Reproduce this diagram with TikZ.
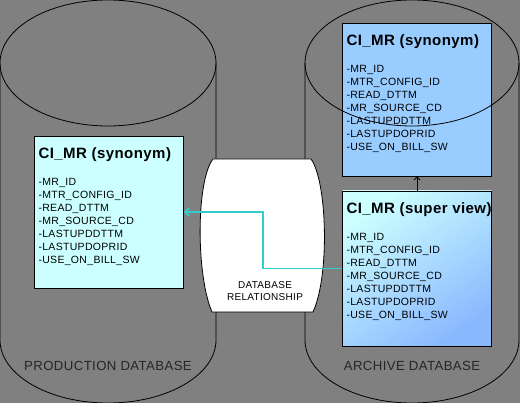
\documentclass[tikz,border=0pt]{standalone}
\usepackage{fontspec}
\setmainfont{Liberation Sans}[LetterSpace=3]
\usetikzlibrary{arrows.meta,calc}

\definecolor{bggray}{HTML}{808080}
\definecolor{paleaqua}{HTML}{CCFFFF}
\definecolor{skyblue}{HTML}{99CCFF}
\definecolor{relcyan}{HTML}{33CCCC}

\newcommand{\mrfields}{-MR\_ID\\-MTR\_CONFIG\_ID\\-READ\_DTTM\\-MR\_SOURCE\_CD\\-LASTUPDDTTM\\-LASTUPDOPRID\\-USE\_ON\_BILL\_SW}
\newcommand{\mrtable}[2]{\parbox[t][#2][t]{141pt}{\raggedright
  \makebox[0pt][l]{\fontsize{15}{15}\selectfont\bfseries #1}\\[14pt]
  \fontsize{10.5}{13}\selectfont\mrfields}}

\begin{document}
\begin{tikzpicture}[x=1pt, y=1pt]
  \tikzstyle{cyl} = [draw, line width=0.8pt]
  \tikzstyle{table} = [draw, line width=0.8pt, inner xsep=4pt, inner ysep=12pt]
  \tikzstyle{dblabel} = [font=\fontsize{13.2}{16}\selectfont, text=black!85]

  % Background
  \fill[bggray] (0,0) rectangle (520,403);
  \useasboundingbox (0,0) rectangle (520,403);

  % Database cylinders
  \draw[cyl] (0,340) -- (0,63) arc[start angle=180, end angle=360, x radius=108, y radius=63] -- (216,340);
  \draw[cyl] (305,340) -- (305,63) arc[start angle=180, end angle=360, x radius=107, y radius=63] -- (519,340);

  % Relationship barrel
  \filldraw[cyl, fill=white] (213,244) -- (311,244)
    .. controls (327,222) and (330,128) .. (313,91) -- (212,91)
    .. controls (196,128) and (196,222) .. (213,244) -- cycle;

  % Tables
  \node[table, fill=paleaqua] (prodsyn) at (109,191) {\mrtable{CI\_MR (synonym)}{128pt}};
  \node[table, fill=skyblue] (archsyn) at (417,303.5) {\mrtable{CI\_MR (synonym)}{129pt}};
  \node[table, top color=paleaqua, bottom color=skyblue!90!blue, shading angle=35] (superview) at (417,134.5) {\mrtable{CI\_MR (super view)}{131pt}};

  % Cylinder tops
  \draw[cyl] (108,340) ellipse [x radius=108, y radius=63];
  \draw[cyl] (412,340) ellipse [x radius=107, y radius=63];

  % Labels
  \node[dblabel] (prodlabel) at (108,37) {PRODUCTION DATABASE};
  \node[dblabel] (archlabel) at (412,37) {ARCHIVE DATABASE};
  \node[align=center, font=\fontsize{10}{12}\selectfont] (rellabel) at (265,112) {DATABASE\\RELATIONSHIP};

  % Connectors
  \coordinate (bend) at ($(superview.west)!0.5!(prodsyn.east)$);
  \draw[-{Straight Barb[length=4pt, width=8pt]}, relcyan, line width=1.8pt] (superview.west) -| (bend) |- (prodsyn.east);
  \draw[-{Straight Barb[length=3pt, width=6pt]}, line width=0.8pt] (superview.north) -- (archsyn.south);
\end{tikzpicture}
\end{document}
